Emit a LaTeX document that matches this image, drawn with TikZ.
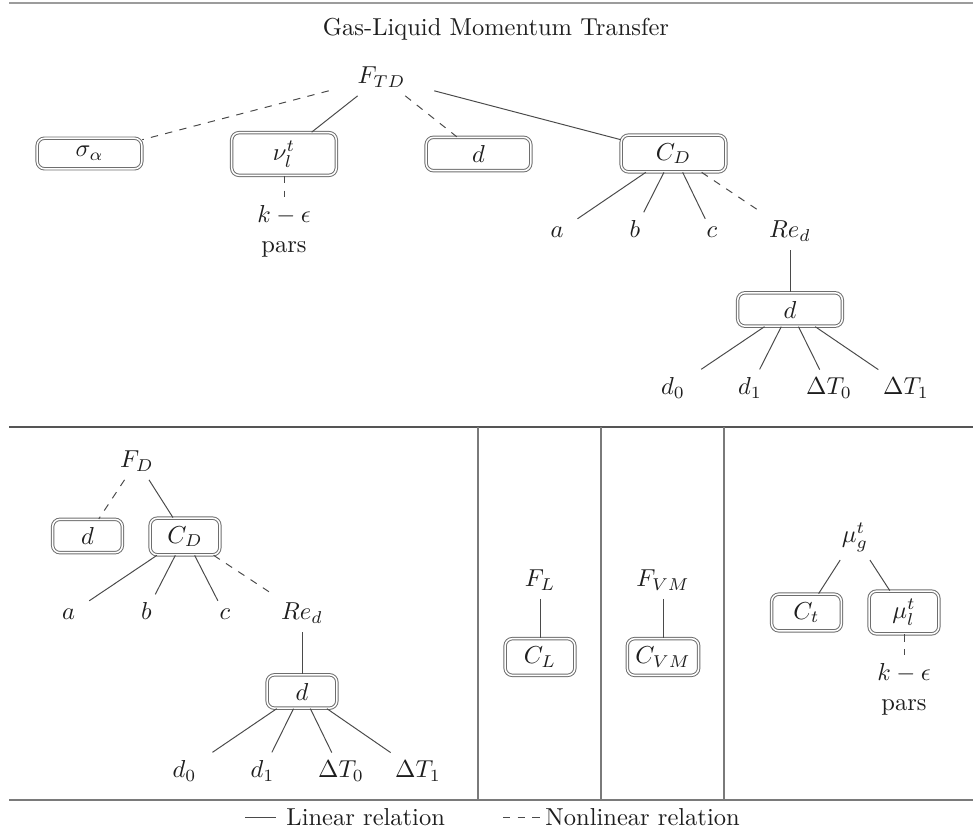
\documentclass[tikz,border=0pt]{standalone}
\definecolor{framegray}{HTML}{9C9C9C}
\definecolor{rulegray}{HTML}{555555}
\definecolor{sepgray}{HTML}{7A7A7A}
\definecolor{linkgray}{HTML}{4A4A4A}
\definecolor{boxgray}{HTML}{6E6E6E}
\definecolor{inkgray}{HTML}{1E1E1E}
\tikzset{
  term/.style={inner sep=3.33pt, text=inkgray},
  param/.style={term, draw=boxgray, double=white, double distance=0.6pt,
                line width=0.4pt, rounded corners=3pt},
  widetree/.style={minimum width=1.5cm},
  narrowtree/.style={minimum width=1cm},
  link/.style={draw=linkgray, line width=0.4pt},
  nlink/.style={link, dashed},
}
\begin{document}
\begin{tikzpicture}[x=0.408pt, y=-0.408pt]
\useasboundingbox (0,0) rectangle (973,838);

% panel rules
\draw[framegray, line width=0.8pt] (9,3) -- (973,3);
\draw[rulegray, line width=0.7pt] (9,427) -- (973,427);
\draw[sepgray, line width=0.6pt] (9,800) -- (973,800);
\foreach \x in {478,601,724} \draw[sepgray, line width=0.45pt] (\x,427) -- (\x,800);

\node[term] (title) at (496,29) {Gas-Liquid Momentum Transfer};

% drag force with turbulent dispersion
\begin{scope}[every node/.append style={widetree}]
  \node[term]  (FTD) at (381.5,77) {$F_{TD}$};
  \node[param] (sig) at (89.5,153.5) {$\sigma_\alpha$};
  \node[param] (nu)  at (284,154) {$\nu_l^t$};
  \node[param] (dA)  at (478.5,154) {$d$};
  \node[param] (CDA) at (673.5,153.5) {$C_D$};
  \node[term, anchor=north, align=center] (keA) at (284,197) {$k-\epsilon$\\pars};
  \node[term, anchor=base] (aA)  at (557,238) {$a$};
  \node[term, anchor=base] (bA)  at (635,238) {$b$};
  \node[term, anchor=base] (cA)  at (712,238) {$c$};
  \node[term, anchor=base] (ReA) at (790,238) {$Re_d$};
  \node[param] (dB)  at (790,309.5) {$d$};
  \node[term, anchor=base] (d0A) at (673,395) {$d_0$};
  \node[term, anchor=base] (d1A) at (750,395) {$d_1$};
  \node[term, anchor=base] (T0A) at (829,395) {$\Delta T_0$};
  \node[term, anchor=base] (T1A) at (906,395) {$\Delta T_1$};
\end{scope}
\draw[nlink] (FTD) -- (sig);
\draw[link]  (FTD) -- (nu);
\draw[nlink] (FTD) -- (dA);
\draw[link]  (FTD) -- (CDA);
\draw[nlink] (nu) -- (keA);
\draw[link]  (CDA) -- (aA);
\draw[link]  (CDA) -- (bA);
\draw[link]  (CDA) -- (cA);
\draw[nlink] (CDA) -- (ReA);
\draw[link]  (ReA) -- (dB);
\foreach \leaf in {d0A,d1A,T0A,T1A} \draw[link] (dB) -- (\leaf);

% drag force
\begin{scope}[every node/.append style={narrowtree}]
  \node[term]  (FD)  at (137,461) {$F_D$};
  \node[param] (dC)  at (87.5,536) {$d$};
  \node[param] (CDB) at (185,536.5) {$C_D$};
  \node[term, anchor=base] (aB)  at (68.5,620) {$a$};
  \node[term, anchor=base] (bB)  at (146.5,620) {$b$};
  \node[term, anchor=base] (cB)  at (225,620) {$c$};
  \node[term, anchor=base] (ReB) at (302,620) {$Re_d$};
  \node[param] (dD)  at (302,691.5) {$d$};
  \node[term, anchor=base] (d0B) at (184.5,778) {$d_0$};
  \node[term, anchor=base] (d1B) at (262.5,778) {$d_1$};
  \node[term, anchor=base] (T0B) at (341,778) {$\Delta T_0$};
  \node[term, anchor=base] (T1B) at (418,778) {$\Delta T_1$};

  % lift and virtual mass
  \node[term]  (FL)  at (540,580) {$F_L$};
  \node[param] (CL)  at (540,657) {$C_L$};
  \node[term]  (FVM) at (663,580) {$F_{VM}$};
  \node[param] (CVM) at (663,657) {$C_{VM}$};

  % gas turbulent viscosity
  \node[term]  (mug) at (855,537) {$\mu_g^t$};
  \node[param] (Ct)  at (806.5,612.5) {$C_t$};
  \node[param] (mul) at (904,612.5) {$\mu_l^t$};
  \node[term, anchor=north, align=center] (keB) at (904,655) {$k-\epsilon$\\pars};
\end{scope}
\draw[nlink] (FD) -- (dC);
\draw[link]  (FD) -- (CDB);
\draw[link]  (CDB) -- (aB);
\draw[link]  (CDB) -- (bB);
\draw[link]  (CDB) -- (cB);
\draw[nlink] (CDB) -- (ReB);
\draw[link]  (ReB) -- (dD);
\foreach \leaf in {d0B,d1B,T0B,T1B} \draw[link] (dD) -- (\leaf);
\draw[link]  (FL) -- (CL);
\draw[link]  (FVM) -- (CVM);
\draw[link]  (mug) -- (Ct);
\draw[link]  (mug) -- (mul);
\draw[nlink] (mul) -- (keB);

% legend
\coordinate (linA) at (245,817);
\coordinate (linB) at (276,817);
\draw[link] (linA) -- (linB);
\node[term, anchor=base west, inner sep=0pt] (linT) at (286,826) {Linear relation};
\coordinate (nlinA) at (503,817);
\coordinate (nlinB) at (540,817);
\draw[nlink] (nlinA) -- (nlinB);
\node[term, anchor=base west, inner sep=0pt] (nlinT) at (545,826) {Nonlinear relation};
\end{tikzpicture}
\end{document}
